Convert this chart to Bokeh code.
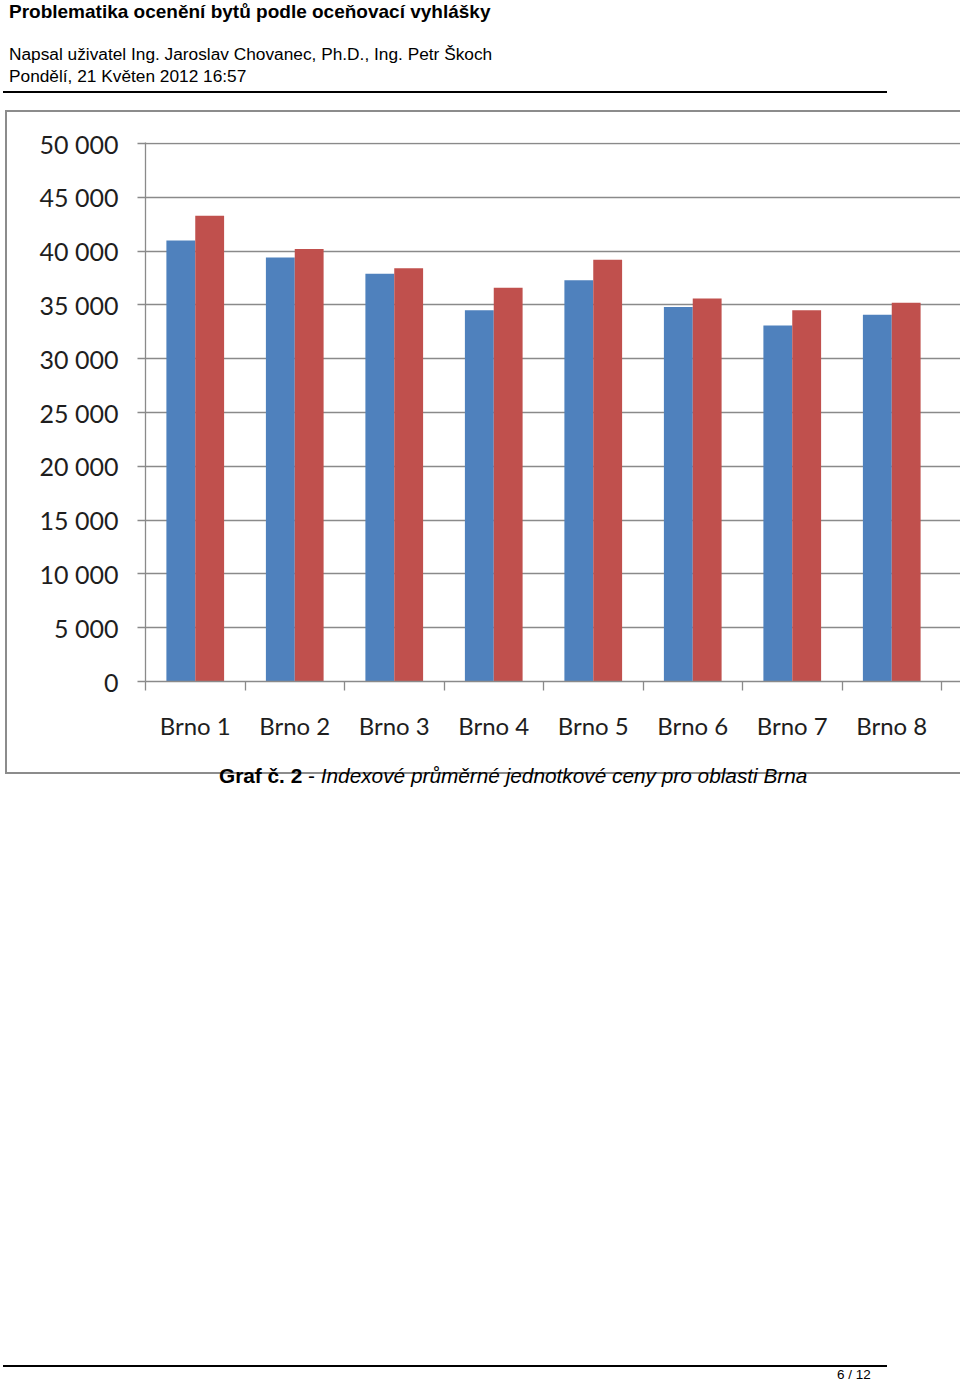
from bokeh.plotting import figure
from bokeh.models import Range1d, FixedTicker, Div
from bokeh.layouts import column
from bokeh.embed import file_html
from bokeh.resources import INLINE

# ---- data ----
categories = ["Brno 1", "Brno 2", "Brno 3", "Brno 4", "Brno 5", "Brno 6", "Brno 7", "Brno 8"]
series_blue = [41000, 39400, 37900, 34500, 37300, 34800, 33100, 34100]
series_red = [43300, 40200, 38400, 36600, 39200, 35600, 34500, 35200]
y_ticks = [0, 5000, 10000, 15000, 20000, 25000, 30000, 35000, 40000, 45000, 50000]
y_tick_labels = ["0", "5 000", "10 000", "15 000", "20 000", "25 000",
                 "30 000", "35 000", "40 000", "45 000", "50 000"]

page_title = "Problematika ocenění bytů podle oceňovací vyhlášky"
author_line = "Napsal uživatel Ing. Jaroslav Chovanec, Ph.D., Ing. Petr Škoch"
date_line = "Pondělí, 21 Květen 2012 16:57"
caption_bold = "Graf č. 2"
caption_italic = "Indexové průměrné jednotkové ceny pro oblasti Brna"
page_number = "6 / 12"

BLUE = "#4F81BD"
RED = "#C0504D"
GRID = "#8a8a8a"
BORDER = "#8c8c8c"
TICK_FONT = "Lato"

# ---- header ----
header_html = f"""
<div style="position:relative;width:960px;height:110px;font-family:'Liberation Sans',Arial,sans-serif;color:#000;">
  <div style="position:absolute;left:9px;top:2px;font-size:19px;line-height:1;font-weight:bold;white-space:nowrap;">{page_title}</div>
  <div style="position:absolute;left:9px;top:46px;font-size:17.3px;line-height:1;white-space:nowrap;">{author_line}</div>
  <div style="position:absolute;left:9px;top:68px;font-size:17.3px;line-height:1;white-space:nowrap;">{date_line}</div>
  <div style="position:absolute;left:3px;top:91px;width:884px;height:2px;background:#000;"></div>
</div>
"""
header = Div(text=header_html, width=960, height=110, margin=(0, 0, 0, 0))

# ---- chart ----
n = len(categories)
group_width = 99.5  # px per category in the reference
x_end = (960 - 145) / group_width
p = figure(width=960, height=654, output_backend="svg", toolbar_location=None,
           x_range=Range1d(0, x_end), y_range=Range1d(0, 50100),
           min_border_left=145, min_border_right=0, min_border_top=32, min_border_bottom=83,
           margin=(0, 0, 0, 0))
p.border_fill_color = None
p.background_fill_color = "white"
p.outline_line_color = None
p.styles = {
    "background": (f"linear-gradient({BORDER},{BORDER}) 5px 0px/2px 100% no-repeat, "
                   f"linear-gradient({BORDER},{BORDER}) 5px 0px/100% 2px no-repeat, white")
}

centers = [i + 0.5 for i in range(n)]
boundaries = [i for i in range(n + 1)]
off = 0.145
bw = 0.29
p.vbar(x=[c - off for c in centers], top=series_blue, bottom=0, width=bw,
       fill_color=BLUE, line_color=None)
p.vbar(x=[c + off for c in centers], top=series_red, bottom=0, width=bw,
       fill_color=RED, line_color=None)

# y axis
p.yaxis.ticker = FixedTicker(ticks=y_ticks)
p.yaxis.major_label_overrides = dict(zip(y_ticks, y_tick_labels))
p.yaxis.axis_line_color = GRID
p.yaxis.axis_line_width = 1.3
p.yaxis.major_tick_line_color = GRID
p.yaxis.major_tick_line_width = 1.3
p.yaxis.major_tick_out = 8
p.yaxis.major_tick_in = 0
p.yaxis.minor_tick_line_color = None
p.yaxis.major_label_standoff = 19
p.yaxis.major_label_text_font = TICK_FONT
p.yaxis.major_label_text_font_size = "25px"
p.yaxis.major_label_text_color = "#1e1e1e"

p.ygrid.grid_line_color = GRID
p.ygrid.grid_line_width = 1.3
p.xgrid.visible = False

# x axis: labels at centres, tick marks at category boundaries
p.xaxis.ticker = FixedTicker(ticks=centers, minor_ticks=boundaries)
p.xaxis.major_label_overrides = dict(zip(centers, categories))
p.xaxis.axis_line_color = GRID
p.xaxis.axis_line_width = 1.3
p.xaxis.major_tick_line_color = None
p.xaxis.major_tick_out = 0
p.xaxis.major_tick_in = 0
p.xaxis.minor_tick_line_color = GRID
p.xaxis.minor_tick_line_width = 1.3
p.xaxis.minor_tick_out = 9
p.xaxis.minor_tick_in = 0
p.xaxis.major_label_standoff = 20
p.xaxis.major_label_text_font = TICK_FONT
p.xaxis.major_label_text_font_size = "24px"
p.xaxis.major_label_text_color = "#1e1e1e"

# ---- caption + footer ----
footer_html = f"""
<div style="position:relative;width:960px;height:618px;font-family:'Liberation Sans',Arial,sans-serif;color:#000;">
  <div style="position:absolute;left:5px;top:0px;width:2px;height:10px;background:{BORDER};"></div>
  <div style="position:absolute;left:5px;top:8px;width:955px;height:2px;background:{BORDER};"></div>
  <div style="position:absolute;left:219px;top:2px;font-size:20.8px;line-height:1;white-space:nowrap;">
    <b>{caption_bold}</b> - <i>{caption_italic}</i></div>
  <div style="position:absolute;left:3px;top:601px;width:884px;height:2px;background:#000;"></div>
  <div style="position:absolute;left:837px;top:604px;font-size:13.5px;line-height:1;white-space:nowrap;">{page_number}</div>
</div>
"""
footer = Div(text=footer_html, width=960, height=618, margin=(0, 0, 0, 0))

layout = column(header, p, footer, spacing=0, margin=(0, 0, 0, 0))

open("out.html", "w").write(file_html(layout, INLINE))
